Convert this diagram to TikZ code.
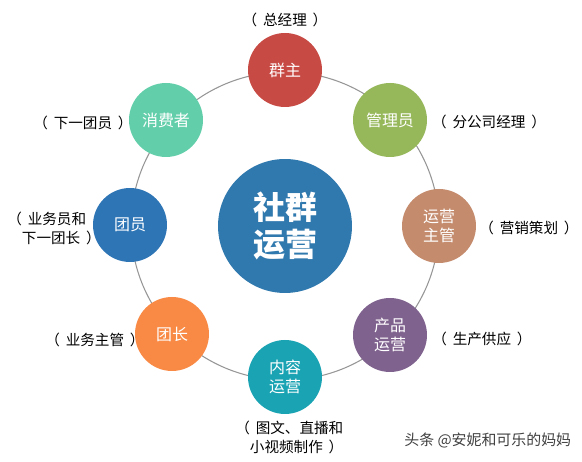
\documentclass[tikz,border=0pt]{standalone}
\usepackage{fontspec}
\setmainfont{Noto Sans CJK SC}
\usepackage{tikz}
\usetikzlibrary{positioning}
\definecolor{qunzhu}{RGB}{200,74,68}
\definecolor{guanli}{RGB}{150,183,90}
\definecolor{yunying}{RGB}{196,139,109}
\definecolor{chanpin}{RGB}{128,98,143}
\definecolor{neirong}{RGB}{26,163,179}
\definecolor{tuanzhang}{RGB}{248,138,69}
\definecolor{tuanyuan}{RGB}{46,117,182}
\definecolor{xiaofei}{RGB}{99,207,170}
\definecolor{hubblue}{RGB}{48,121,174}
\definecolor{ringgray}{RGB}{150,150,150}
\newcommand{\pgap}{\hspace{0.4em}}
\tikzset{
  role/.style={circle, minimum size=1.48cm, inner sep=0, text=white, align=center,
    font=\fontsize{9.1}{10.4}\selectfont},
  note/.style={inner sep=0, font=\fontsize{8.3}{10.8}\selectfont, align=left}
}

\begin{document}
\begin{tikzpicture}[x=0.02cm,y=0.02cm]
        \useasboundingbox (0,0) rectangle (582,462);
        \draw [ringgray, line width=0.6pt](285,236) circle (154);
        \node (hub) at (285,236)[circle, fill=hubblue, minimum size=2.68cm, inner sep=0, text=white, align=center,
          font=\fontsize{18.2}{21}\selectfont\bfseries]{社群\\运营};
        \node (qz) at (285,392)[role, fill=qunzhu]{群主};
        \node (gly) at (390,342)[role, fill=guanli]{管理员};
        \node (yyzg) at (439,236)[role, fill=yunying]{运营\\主管};
        \node (cpyy) at (390,127)[role, fill=chanpin]{产品\\运营};
        \node (nryy) at (285,85)[role, fill=neirong]{内容\\运营};
        \node (tz) at (172,128)[role, fill=tuanzhang]{团长};
        \node (ty) at (130,237)[role, fill=tuanyuan]{团员};
        \node (xfz) at (166,342)[role, fill=xiaofei]{消费者};
        \node (zjl) at (285,442)[note]{（\pgap 总经理\pgap）};
        \node (fgs) at (489,340)[note]{（\pgap 分公司经理\pgap）};
        \node (yxch) at (529,234)[note]{（\pgap 营销策划\pgap）};
        \node (scgy) at (482,123)[note]{（\pgap 生产供应\pgap）};
        \node (twzb) at (235,24.5)[note, anchor=west]{（\pgap 图文、直播和\\\hspace*{1em}小视频制作\pgap）};
        \node (ywzg) at (95,122)[note]{（\pgap 业务主管\pgap）};
        \node (ywy) at (7,233.5)[note, anchor=west]{（\pgap 业务员和\\\hspace*{1em}下一团长\pgap）};
        \node (xyty) at (83,339)[note]{（\pgap 下一团员\pgap）};
        \node (mark) at (404,22)[anchor=west, inner sep=0, text=black!75, font=\fontsize{8.5}{10}\selectfont]{头条 @安妮和可乐的妈妈};
\end{tikzpicture}
\end{document}
